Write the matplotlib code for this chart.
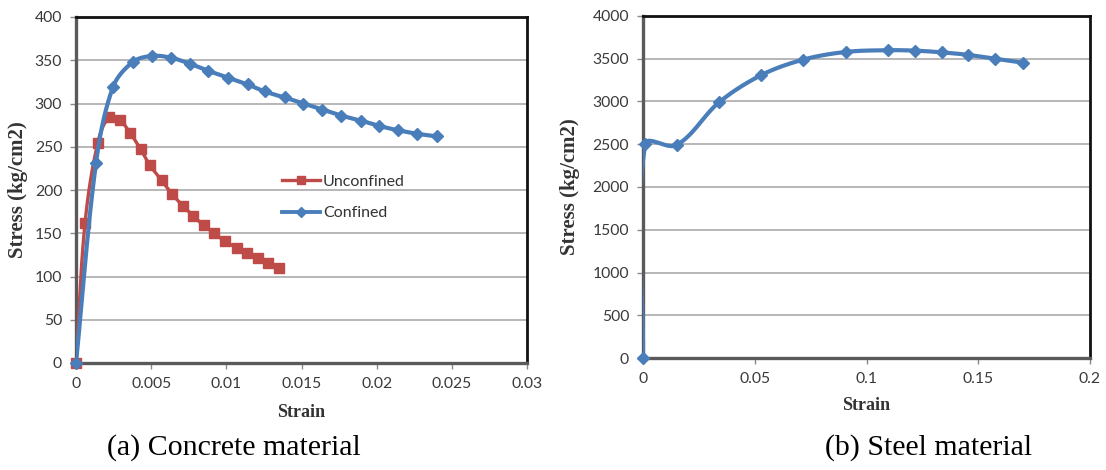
import numpy as np
import matplotlib
matplotlib.use("Agg")
import matplotlib.pyplot as plt
from matplotlib.lines import Line2D
from matplotlib.ticker import FormatStrFormatter, MultipleLocator

# ---------------- data ----------------
unconf_strain = [0, 0.0006, 0.00144, 0.0022, 0.0029, 0.0036, 0.0043, 0.0049, 0.0057,
                 0.0064, 0.0071, 0.0078, 0.0085, 0.0092, 0.0099, 0.0107, 0.0114,
                 0.0121, 0.0128, 0.0135]
unconf_stress = [0, 162, 254, 284, 281, 266, 247, 229, 211, 195, 182, 170, 159, 150,
                 141, 133, 127, 121, 116, 110]

conf_strain = [0, 0.00133, 0.00246, 0.00378, 0.00504, 0.0063, 0.00757, 0.00876,
               0.01009, 0.01142, 0.01254, 0.01387, 0.01513, 0.01639, 0.01765,
               0.01898, 0.02018, 0.02144, 0.0227, 0.0240]
conf_stress = [0, 231, 319, 348, 355, 353, 346, 338, 330, 322, 314, 307, 300, 293,
               286, 280, 274, 269, 265, 262]

steel_strain = [0, 0.001, 0.015, 0.034, 0.053, 0.0717, 0.0908, 0.1098, 0.1217,
                0.1336, 0.1456, 0.1575, 0.1699]
steel_stress = [0, 2500, 2490, 2990, 3310, 3490, 3580, 3600, 3595, 3575, 3545,
                3500, 3455]

labels = ["Unconfined", "Confined"]
captions = ["(a) Concrete material", "(b) Steel material"]
xlabel = "Strain"
ylabel = "Stress (kg/cm2)"

BLUE = "#4a7ebb"
RED = "#be4b48"
TICKFONT = "Lato"
LABELFONT = "Liberation Serif"


def smooth(ax, x, y, n=30):
    """Excel-like smoothed line, computed in screen space with
    length-scaled tangents (cubic Bezier between the data points)."""
    p = ax.transData.transform(np.column_stack([x, y]).astype(float))
    m = len(p)
    tang = np.zeros_like(p)
    for i in range(m):
        a = p[i - 1] if i > 0 else p[i]
        b = p[i + 1] if i < m - 1 else p[i]
        d = b - a
        nrm = np.hypot(*d)
        tang[i] = d / nrm if nrm > 0 else 0
    out = [p[0]]
    t = np.linspace(0, 1, n)[1:, None]
    for i in range(m - 1):
        p1, p2 = p[i], p[i + 1]
        L = np.hypot(*(p2 - p1))
        c1 = p1 + tang[i] * L / 3.0
        c2 = p2 - tang[i + 1] * L / 3.0
        seg = ((1 - t) ** 3) * p1 + 3 * ((1 - t) ** 2) * t * c1 + 3 * (1 - t) * t ** 2 * c2 + t ** 3 * p2
        out.extend(seg)
    out = ax.transData.inverted().transform(np.array(out))
    return out[:, 0], out[:, 1]


fig = plt.figure(figsize=(11.06, 4.70), dpi=100)
W, H = 1106, 470


def make_axes(x0, x1, y0, y1):
    return fig.add_axes([x0 / W, 1 - y0 / H, (x1 - x0) / W, (y0 - y1) / H])


def style(ax, ylab_x, xlab_y):
    ax.grid(axis="y", color="#a3a3a3", lw=1.1)
    ax.set_axisbelow(True)
    for s in ["top", "right"]:
        ax.spines[s].set_color("#111111")
        ax.spines[s].set_linewidth(2.0)
    for s in ["left", "bottom"]:
        ax.spines[s].set_color("#5a5a5a")
        ax.spines[s].set_linewidth(2.4)
    ax.tick_params(axis="both", direction="out", length=4, width=1, color="#8a8a8a",
                   labelsize=11.3, labelcolor="#3a3a3a", pad=6)
    for lab in ax.get_xticklabels() + ax.get_yticklabels():
        lab.set_fontfamily(TICKFONT)
    ax.set_xlabel(xlabel, fontfamily=LABELFONT, fontweight="bold", fontsize=13,
                  color="#333333", va="center")
    ax.set_ylabel(ylabel, fontfamily=LABELFONT, fontweight="bold", fontsize=15,
                  color="#333333", va="center", ha="center")
    ax.yaxis.set_label_coords(ylab_x, 0.5)
    ax.xaxis.set_label_coords(0.5, xlab_y)


# ---------------- (a) concrete ----------------
ax1 = make_axes(76, 527, 363, 17)
ax1.set_xlim(0, 0.03)
ax1.set_ylim(0, 400)
ax1.xaxis.set_major_locator(MultipleLocator(0.005))
ax1.yaxis.set_major_locator(MultipleLocator(50))
ax1.xaxis.set_major_formatter(FormatStrFormatter("%g"))

xs, ys = smooth(ax1, unconf_strain, unconf_stress)
ax1.plot(xs, ys, color=RED, lw=2.4, solid_capstyle="round", zorder=3)
ax1.plot(unconf_strain, unconf_stress, ls="none", marker="s", ms=6.5, color=RED, zorder=4,
         clip_on=False)
xs, ys = smooth(ax1, conf_strain, conf_stress)
ax1.plot(xs, ys, color=BLUE, lw=3.0, solid_capstyle="round", zorder=5)
ax1.plot(conf_strain, conf_stress, ls="none", marker="D", ms=6, color=BLUE, zorder=6,
         clip_on=False)

handles = [Line2D([], [], color=RED, lw=2.4, marker="s", ms=6),
           Line2D([], [], color=BLUE, lw=2.8, marker="D", ms=5)]
leg = ax1.legend(handles, labels, loc="upper left", bbox_to_anchor=(0.457, 0.545),
                 frameon=False, borderpad=0, borderaxespad=0, handlelength=2.4,
                 handletextpad=0.15, labelspacing=1.1,
                 prop={"family": TICKFONT, "size": 11.5})
for t in leg.get_texts():
    t.set_color("#333333")
style(ax1, -0.129, -0.142)

# ---------------- (b) steel ----------------
ax2 = make_axes(643, 1090, 358, 16)
ax2.set_xlim(0, 0.2)
ax2.set_ylim(0, 4000)
ax2.xaxis.set_major_locator(MultipleLocator(0.05))
ax2.yaxis.set_major_locator(MultipleLocator(500))
ax2.xaxis.set_major_formatter(FormatStrFormatter("%g"))

xs, ys = smooth(ax2, steel_strain, steel_stress)
ax2.plot(xs, ys, color=BLUE, lw=3.0, solid_capstyle="round", zorder=5)
ax2.plot(steel_strain, steel_stress, ls="none", marker="D", ms=6, color=BLUE, zorder=6,
         clip_on=False)
style(ax2, -0.163, -0.140)

# ---------------- captions ----------------
fig.text(234 / W, 1 - 448 / H, captions[0], fontfamily=LABELFONT, fontsize=21.5,
         ha="center", va="center", color="black")
fig.text(929 / W, 1 - 448 / H, captions[1], fontfamily=LABELFONT, fontsize=21.5,
         ha="center", va="center", color="black")

fig.savefig("out.png", dpi=100, facecolor="white")
